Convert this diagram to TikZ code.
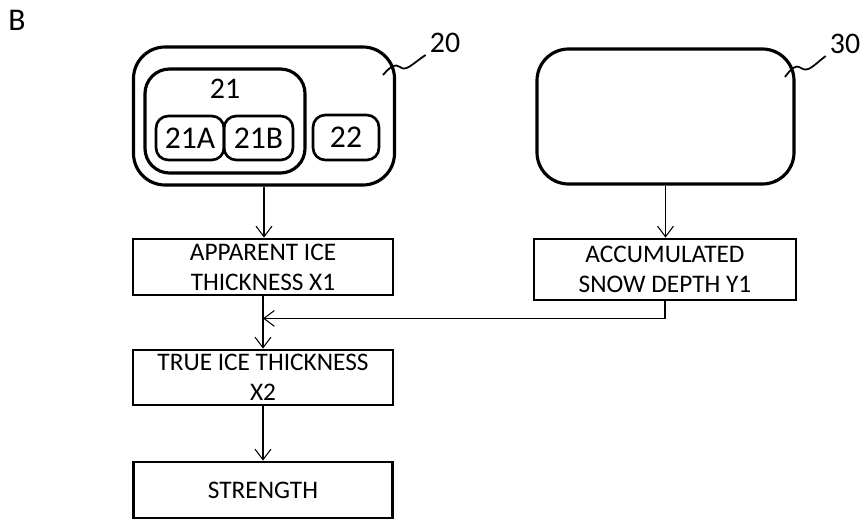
\documentclass[tikz,border=0pt]{standalone}
\usepackage{fontspec}
\setmainfont{Carlito}
\usetikzlibrary{arrows.meta, calc}
\tikzset{
  unit/.style={draw, line width=1.8pt, rounded corners=18pt, inner sep=0pt},
  part/.style={draw, line width=1.5pt, rounded corners=7pt, inner sep=0pt, font=\fontsize{18}{20}\selectfont},
  value/.style={draw, line width=1.6pt, inner sep=0pt, align=center, font=\fontsize{14.4}{17}\selectfont},
  flow/.style={-{Straight Barb[length=6pt,width=9pt]}, line width=0.6pt},
  tag/.style={font=\fontsize{17}{20}\selectfont}
}
\begin{document}
\begin{tikzpicture}[x=0.02cm,y=-0.02cm]
\useasboundingbox (0,0) rectangle (867,521);

\node[font=\fontsize{18}{20}\selectfont] (fig) at (17,20) {B};

% sensor units
\node[unit, minimum width=261*0.02cm, minimum height=138*0.02cm] (u20) at (264,116) {};
\node[unit, rounded corners=14pt, minimum width=160*0.02cm, minimum height=104*0.02cm] (u21) at (225,121) {};
\node[tag] (t21) at (225,89) {21};
\node[part, minimum width=68*0.02cm, minimum height=44*0.02cm] (u21A) at (190,138) {21A};
\node[part, minimum width=69*0.02cm, minimum height=44*0.02cm] (u21B) at (258.5,138) {21B};
\node[part, minimum width=66*0.02cm, minimum height=45*0.02cm] (u22) at (346,137.5) {22};
\node[unit, minimum width=257*0.02cm, minimum height=135*0.02cm] (u30) at (665.5,116.5) {};

% reference leaders
\node[tag] (t20) at (445,43) {20};
\node[tag] (t30) at (845,44) {30};
\coordinate (l20) at (383,75);
\coordinate (l30) at (785,77);
\draw[line width=1pt] (l20) .. controls (390,67) and (395,63) .. (400,67)
  .. controls (406,72) and (412,64) .. ($(t20.south west)+(2,-4)$);
\draw[line width=1pt] (l30) .. controls (791,69) and (795,64) .. (801,68)
  .. controls (808,73) and (814,65) .. ($(t30.south west)+(2,-4)$);

% values
\node[value, minimum width=260*0.02cm, minimum height=56*0.02cm] (x1) at (263,267) {APPARENT ICE\\THICKNESS X1};
\node[value, minimum width=262*0.02cm, minimum height=61*0.02cm] (y1) at (665,269.5) {ACCUMULATED\\SNOW DEPTH Y1};
\node[value, minimum width=260*0.02cm, minimum height=55*0.02cm] (x2) at (263,377.5) {TRUE ICE THICKNESS\\X2};
\node[value, minimum width=259*0.02cm, minimum height=56*0.02cm] (st) at (263,490) {STRENGTH};

\coordinate (join) at ($(x1.south)+(0,22)$);

\draw[flow] (u20.south) -- (u20.south |- x1.north);
\draw[flow] (u30.south) -- (u30.south |- y1.north);
\draw[flow] (x1.south) -- (x2.north);
\draw[flow] (y1.south) |- (join);
\draw[flow] (x2.south) -- (st.north);

\end{tikzpicture}
\end{document}
